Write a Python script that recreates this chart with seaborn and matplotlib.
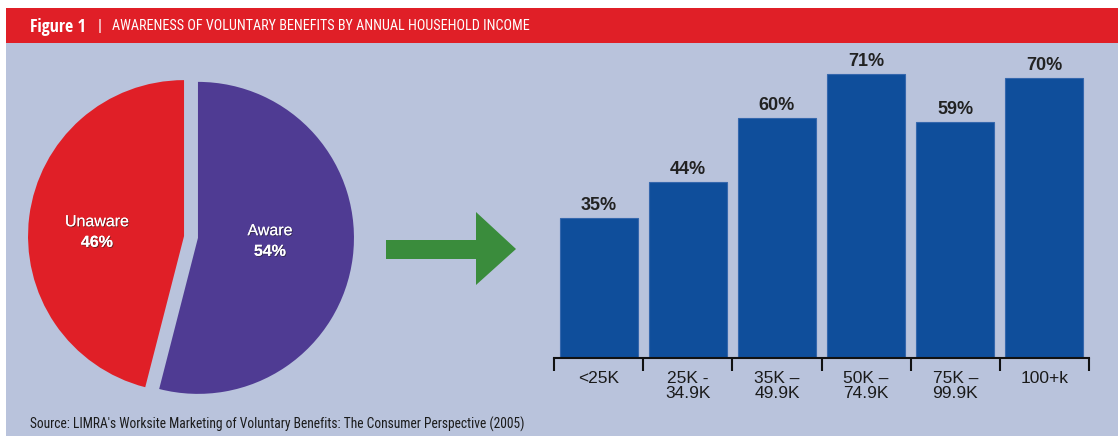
import os
import matplotlib
matplotlib.use("Agg")
import matplotlib.pyplot as plt
import matplotlib.patheffects as pe
from matplotlib import font_manager as fm
from matplotlib.patches import Rectangle, Polygon
import numpy as np
import pandas as pd
import seaborn as sns

# ---------------- data ----------------
pie_labels = ["Unaware", "Aware"]
pie_values = [46, 54]

income_groups = ["<25K", "25K -\n34.9K", "35K –\n49.9K", "50K –\n74.9K", "75K –\n99.9K", "100+k"]
awareness = [35, 44, 60, 71, 59, 70]

title_prefix = "Figure 1"
title_text = "AWARENESS OF VOLUNTARY BENEFITS BY ANNUAL HOUSEHOLD INCOME"
source_text = "Source: LIMRA's Worksite Marketing of Voluntary Benefits: The Consumer Perspective (2005)"

# ---------------- style ----------------
RED = "#e01f27"
PURPLE = "#4f3b93"
BAR_BLUE = "#0f4e9b"
BG = "#b9c3dc"
GREEN = "#3a8c3c"

sns.set_theme(style="white")
plt.rcParams["font.family"] = ["Liberation Sans", "DejaVu Sans"]

FAMILIES = ("noto sans", "open sans", "roboto", "lato", "inter", "liberation sans", "dejavu sans")
EXTRA_WORDS = {"condensed", "semicondensed", "extracondensed", "ultracondensed", "narrow",
               "semi", "extra", "ultra", "light", "medium", "semibold", "bold", "black",
               "thin", "regular", "sc", "ui"}


def _num_weight(w):
    if isinstance(w, (int, float)):
        return int(w)
    return fm.weight_dict.get(str(w), 400)


def _ok_name(nm):
    for fam in FAMILIES:
        if nm == fam:
            return True
        if nm.startswith(fam + " "):
            rest = nm[len(fam) + 1:].split()
            if all(r in EXTRA_WORDS for r in rest):
                return True
    return False


def pick_font(bold, sample, target_ratio):
    best = None
    seen = set()
    for f in fm.fontManager.ttflist:
        if f.fname in seen:
            continue
        seen.add(f.fname)
        if f.style != "normal":
            continue
        nm = f.name.lower()
        base = os.path.basename(f.fname).lower()
        if not _ok_name(nm) or "italic" in base or "mono" in base:
            continue
        w = _num_weight(f.weight)
        if bold and w < 600:
            continue
        if not bold and not (350 <= w <= 550):
            continue
        try:
            ft = fm.get_font(f.fname)
            ft.set_size(40, 72)
            ft.set_text("H")
            _, hh = ft.get_width_height()
            ft.set_text(sample)
            ww, _ = ft.get_width_height()
        except Exception:
            continue
        if hh <= 0:
            continue
        score = abs(ww / hh - target_ratio)
        if best is None or score < best[0]:
            best = (score, f.fname)
    if best is None:
        return fm.FontProperties(family=["Liberation Sans", "DejaVu Sans"],
                                 weight="bold" if bold else "normal")
    return fm.FontProperties(fname=best[1])


cond_reg = pick_font(False, title_text, 417 / 13)
cond_bold = pick_font(True, title_prefix, 56 / 13)

W, H = 1118, 436
fig = plt.figure(figsize=(W / 100, H / 100), dpi=100)
fig.patch.set_facecolor("white")

# background / decoration axes in pixel coordinates
bg = fig.add_axes([0, 0, 1, 1], zorder=0)
bg.set_xlim(0, W)
bg.set_ylim(H, 0)
bg.axis("off")
bg.add_patch(Rectangle((6, 43), W - 6, H - 43, color=BG, lw=0))
bg.add_patch(Rectangle((6, 8), W - 6, 35, color=RED, lw=0))

t_pre = bg.text(30, 26.5, title_prefix, color="white", fontproperties=cond_bold,
                fontsize=12, va="center", ha="left")
t_bar = bg.text(98, 26.5, "|", color="white", fontproperties=cond_reg, fontsize=12,
                va="center", ha="left")
t_title = bg.text(112, 26.5, title_text, color="white", fontproperties=cond_reg,
                  fontsize=12, va="center", ha="left")
t_src = bg.text(30, 424, source_text, color="#1a1a1a", fontproperties=cond_reg,
                fontsize=8.6, va="center", ha="left")

# fit text widths to the reference widths
fig.canvas.draw()
for t, target in [(t_pre, 56), (t_title, 417), (t_src, 495)]:
    bb = t.get_window_extent()
    t.set_fontsize(t.get_fontsize() * target / bb.width)

arrow = Polygon([(386, 240), (476, 240), (476, 212), (516, 249), (476, 285),
                 (476, 259), (386, 259)], closed=True, color=GREEN, lw=0)
bg.add_patch(arrow)

# ---------------- pie ----------------
R = 156
cx, cy = 191, 237
half = R * 1.2
axp = fig.add_axes([(cx - half) / W, (H - cy - half) / H, 2 * half / W, 2 * half / H], zorder=2)
axp.patch.set_alpha(0)
wedges, _ = axp.pie(pie_values, colors=[RED, PURPLE], startangle=90, counterclock=True,
                    explode=[0.045, 0.045], radius=1,
                    wedgeprops=dict(linewidth=0))
axp.set_xlim(-1.2, 1.2)
axp.set_ylim(-1.2, 1.2)
axp.set_aspect("equal")
axp.axis("off")

shadow = [pe.withSimplePatchShadow(offset=(0.7, -0.7), shadow_rgbFace="#222222", alpha=0.6),
          pe.Normal()]
# label anchor points (pixel positions in the figure)
label_px = [(97, 232), (270, 241)]
for lab, val, (px, py) in zip(pie_labels, pie_values, label_px):
    x = (px - cx) / R
    y = (cy - py) / R
    axp.text(x, y + 0.018, lab, color="white", fontsize=11.5, ha="center", va="bottom",
             path_effects=shadow)
    axp.text(x, y - 0.018, f"{val}%", color="white", fontsize=11.5, fontweight="bold",
             ha="center", va="top", path_effects=shadow)

# ---------------- bars ----------------
base_y = 358
axb = fig.add_axes([554 / W, (H - base_y) / H, (1089 - 554) / W, 300 / H], zorder=2)
axb.patch.set_alpha(0)
df = pd.DataFrame({"income": income_groups, "aware": awareness})
sns.barplot(data=df, x="income", y="aware", color=BAR_BLUE, saturation=1,
            width=0.876, edgecolor="#3567ad", linewidth=0.8, ax=axb)
axb.set_xlim(-0.5, len(income_groups) - 0.5)
axb.set_ylim(0, 75)
axb.set_xlabel("")
axb.set_ylabel("")
axb.set_yticks([])
for s in ["top", "right", "left"]:
    axb.spines[s].set_visible(False)
axb.spines["bottom"].set_color("#111111")
axb.spines["bottom"].set_linewidth(1.5)
axb.set_xticks(range(len(income_groups)))
axb.set_xticklabels(income_groups, fontsize=12.5, color="#1a1a1a", linespacing=1.0)
axb.set_xticks(np.arange(-0.5, len(income_groups)), minor=True)
axb.tick_params(axis="x", which="major", length=0, pad=9)
axb.tick_params(axis="x", which="minor", length=9, width=1.5, color="#111111",
                direction="out", bottom=True)
for c in axb.containers:
    axb.bar_label(c, labels=[f"{v}%" for v in awareness], padding=3,
                  fontsize=13, fontweight="bold", color="#222222")

fig.savefig("out.png", dpi=100, facecolor=fig.get_facecolor())
